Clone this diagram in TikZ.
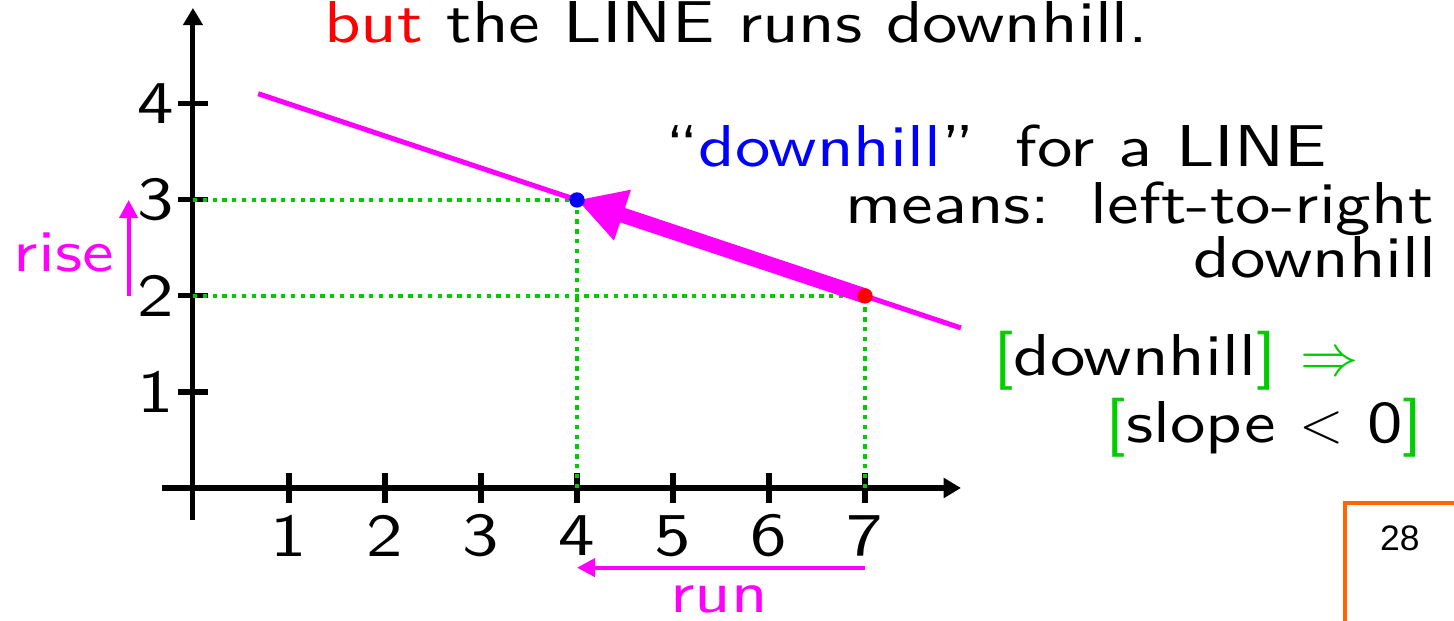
\documentclass[tikz,border=0pt]{standalone}
\usepackage{fontspec}
\setsansfont{lmsans10-regular.otf}[FakeStretch=1.2]
\newfontfamily\pagenofont{Liberation Sans}
\usetikzlibrary{arrows.meta}
\definecolor{magline}{RGB}{255,0,255}
\definecolor{guidegreen}{RGB}{0,204,0}
\definecolor{pageorange}{RGB}{255,102,0}

\begin{document}
\begin{tikzpicture}[>=Latex,
  every node/.style={font=\sffamily\fontsize{17.5}{20}\selectfont, inner sep=0pt},
  axis/.style={line width=1.5pt},
  guide/.style={guidegreen, line width=1.3pt, dash pattern=on 1.3pt off 1.6pt},
  mag/.style={magline, line width=1.5pt}]
\useasboundingbox (-2.01,-1.385) rectangle (13.135,5.083);
% 1. axes and ticks
\draw[axis,-{Triangle[length=0.18cm,width=0.2cm]}] (-0.32,0)--(8,0);
\draw[axis,-{Triangle[length=0.18cm,width=0.2cm]}] (0,-0.33)--(0,5);
\foreach \x in {1,...,7}{\draw[axis] (\x,-0.16)--(\x,0.16);
  \node[font=\sffamily\fontsize{18}{22}\selectfont] (xl\x) at (\x,-0.5) {\x};}
\foreach \y in {1,...,4}{\draw[axis] (-0.16,\y)--(0.16,\y);
  \node[font=\sffamily\fontsize{18}{22}\selectfont, anchor=east] (yl\y) at (-0.19,\y) {\y};}

% 2. the two points and guides
\coordinate (P) at (4,3);
\coordinate (Q) at (7,2);
\draw[guide] (0,3)--(P);
\draw[guide] (0,2)--(Q);
\draw[guide] (4,0)--(P);
\draw[guide] (7,0)--(Q);

% 3. the line and the big arrow
\coordinate (L0) at (0.68,4.107);
\coordinate (L1) at (8.0,1.667);
\draw[mag] (L0)--(L1);
\draw[magline, line width=4.5pt, -{Triangle[length=0.5cm,width=0.52cm]}] (Q)--(P);
\fill[blue] (P) circle (0.08);
\fill[red] (Q) circle (0.08);

% 4. rise and run
\coordinate (rise0) at (-0.67,2);
\coordinate (rise1) at (-0.67,3);
\draw[magline, line width=1.2pt, -{Triangle[length=0.19cm,width=0.19cm]}] (rise0)--(rise1);
\node[magline, anchor=base] (riselbl) at (-1.345,2.26) {rise};
\coordinate (run0) at (7,-0.83);
\coordinate (run1) at (4,-0.83);
\draw[magline, line width=1.2pt, -{Triangle[length=0.19cm,width=0.19cm]}] (run0)--(run1);
\node[magline, anchor=base] (runlbl) at (5.48,-1.3) {run};

% 5. texts
\node[anchor=base] (title) at (5.66,4.635) {\textcolor{red}{but} the LINE runs downhill.};
\node[anchor=base west] (def1) at (4.91,3.344) {``\textcolor{blue}{downhill}''\hspace{0.3em} for a LINE};
\node[anchor=base east] (def2) at (12.93,2.75) {means:\hspace{0.15em} left-to-right};
\node[anchor=base east] (def3) at (12.96,2.19) {downhill};
\node[anchor=base west] (imp1) at (8.33,1.167) {\textcolor{guidegreen}{[}downhill\textcolor{guidegreen}{]} \textcolor{guidegreen}{$\Rightarrow$}};
\node[anchor=base west] (imp2) at (9.5,0.47) {\textcolor{guidegreen}{[}slope $<$ 0\textcolor{guidegreen}{]}};

% 6. page corner
\draw[pageorange, line width=1.2pt] (12,-1.385)--(12,-0.156)--(13.135,-0.156);
\node[font=\pagenofont\fontsize{10.5}{12}\selectfont] (pageno) at (12.57,-0.52) {28};
\end{tikzpicture}
\end{document}
